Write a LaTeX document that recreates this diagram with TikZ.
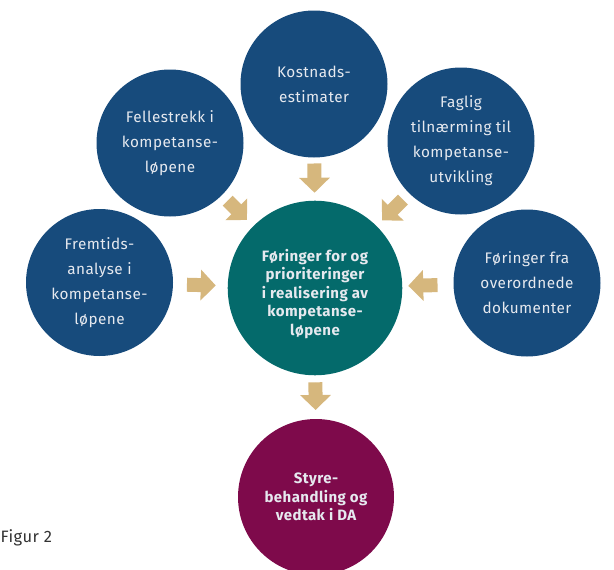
\documentclass[tikz,border=0pt]{standalone}
\usepackage{fontspec}
\setmainfont[LetterSpace=3]{Fira Sans}
\usetikzlibrary{arrows.meta,positioning}
\definecolor{topicblue}{HTML}{174B7C}
\definecolor{coreteal}{HTML}{046A6B}
\definecolor{boardred}{HTML}{7E0A4B}
\definecolor{arrowtan}{HTML}{D6B77D}
\definecolor{labelwhite}{HTML}{E6E9EF}

\begin{document}
\begin{tikzpicture}[x=1pt,y=-1pt,>={Triangle[length=15pt,width=30pt]}]
  \tikzstyle{topic}=[circle,fill=topicblue,minimum size=147pt,inner sep=0pt,outer sep=0pt,text=labelwhite,align=center,font=\fontsize{15.3}{25}\selectfont]
  \tikzstyle{core}=[topic,fill=coreteal,minimum size=156pt,font=\bfseries\fontsize{15}{18.5}\selectfont]
  \tikzstyle{board}=[core,fill=boardred]
  \tikzstyle{push}=[->,line width=14pt,draw=arrowtan,fill=arrowtan]
  \useasboundingbox (0,0) rectangle (614,570);

  % Topic circles
  \node [topic] (kost)   at (314,84)    {Kostnads-\\estimater};
  \node [topic] (felles) at (170,143)   {Fellestrekk i\\kompetanse-\\løpene};
  \node [topic] (faglig) at (461,141)   {Faglig\\tilnærming til\\kompetanse-\\utvikling};
  \node [topic] (fremt)  at (99.5,282.5) {Fremtids-\\analyse i\\kompetanse-\\løpene};
  \node [topic] (fra)    at (527,283)   {Føringer fra\\overordnede\\dokumenter};
  \node [core]  (prio)   at (315,288)   {\raisebox{-6pt}[\height][\depth]{\parbox{150pt}{\centering Føringer for og\\prioriteringer\\i realisering av\\kompetanse-\\løpene}}};
  \node [board] (vedtak) at (316,497)   {Styre-\\behandling og\\vedtak i DA};
  \node [anchor=west,text=black!80,font=\fontsize{16.5}{18}\selectfont] (fig) at (-3,538) {Figur 2};

  % Arrows
  \draw [push,shorten <=6pt,shorten >=8pt] (kost) -- (prio);
  \draw [push,shorten <=8pt,shorten >=9pt] (felles) -- (prio);
  \draw [push,shorten <=9pt,shorten >=8pt] (faglig) -- (prio);
  \draw [push,shorten <=14pt,shorten >=12pt] (fremt) -- (prio);
  \draw [push,shorten <=16pt,shorten >=6pt] (fra) -- (prio);
  \draw [push,shorten <=7pt,shorten >=9pt] (prio) -- (vedtak);
\end{tikzpicture}
\end{document}
